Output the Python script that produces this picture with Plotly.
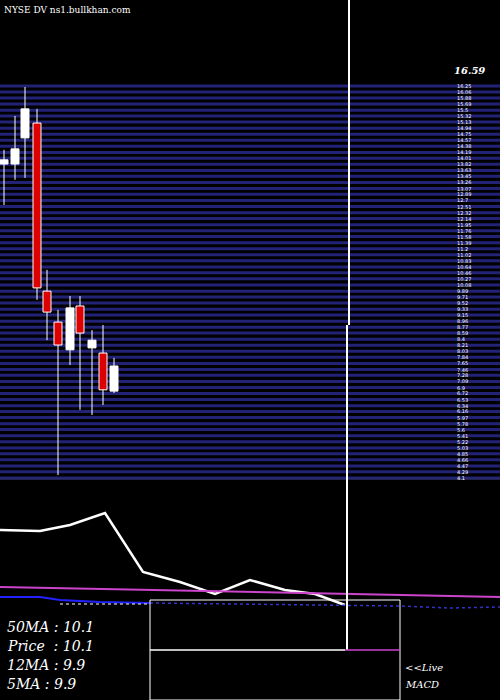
import plotly.graph_objects as go

# candle data
cx = [4, 15, 25, 37, 47, 58, 70, 80, 92, 103, 114]
opens = [13.83, 13.83, 14.64, 15.10, 9.89, 8.93, 8.07, 9.43, 8.13, 7.97, 6.79]
closes = [13.96, 14.30, 15.54, 9.99, 9.24, 8.22, 9.37, 8.59, 8.37, 6.83, 7.57]
highs = [14.27, 15.32, 16.22, 15.54, 10.55, 9.31, 9.74, 9.74, 8.68, 8.84, 7.82]
lows = [12.56, 13.34, 13.40, 9.62, 8.37, 4.19, 7.60, 6.21, 6.05, 6.36, 6.73]

# indicator panel (pixel-like units)
ix = [0, 40, 70, 105, 143, 180, 215, 250, 285, 315, 345]
ma_line = [530, 531, 525, 513, 572, 582, 594, 580, 590, 594, 605]
mx = [0, 100, 200, 300, 400, 500]
magenta = [587, 589, 591, 593, 595, 597]
bx = [0, 40, 60, 100, 150]
blue = [597, 597, 600, 602, 603]
dx = [150, 250, 350, 400, 450, 500]
dblue = [603, 604, 605, 606, 608, 607]

top_price = 16.59
stripe_top, stripe_bottom = 16.25, 4.1
n_stripes = 66
stripe_prices = [round(stripe_top - i * (stripe_top - stripe_bottom) / (n_stripes - 1), 2) for i in range(n_stripes)]

fig = go.Figure()
for i in range(len(cx)):
    up = closes[i] >= opens[i]
    col = "white" if up else "#dd0000"
    fig.add_trace(go.Scatter(x=[cx[i], cx[i]], y=[lows[i], highs[i]], mode="lines",
                             line=dict(color="white", width=1), showlegend=False, hoverinfo="skip"))
    lo, hi = min(opens[i], closes[i]), max(opens[i], closes[i])
    fig.add_trace(go.Scatter(x=[cx[i]-4, cx[i]+4, cx[i]+4, cx[i]-4, cx[i]-4], y=[lo, lo, hi, hi, lo],
                             mode="lines", fill="toself", fillcolor=col,
                             line=dict(color="white", width=1), showlegend=False, hoverinfo="skip"))

fig.add_trace(go.Scatter(x=ix, y=ma_line, yaxis="y2", mode="lines", line=dict(color="white", width=2.5), showlegend=False))
fig.add_trace(go.Scatter(x=mx, y=magenta, yaxis="y2", mode="lines", line=dict(color="#cc44cc", width=2), showlegend=False))
fig.add_trace(go.Scatter(x=bx, y=blue, yaxis="y2", mode="lines", line=dict(color="#2222ff", width=2), showlegend=False))
fig.add_trace(go.Scatter(x=dx, y=dblue, yaxis="y2", mode="lines", line=dict(color="#3333cc", width=1.5, dash="dot"), showlegend=False))

shapes = []
for p in stripe_prices:
    shapes.append(dict(type="line", xref="x", yref="y", x0=0, x1=500, y0=p, y1=p,
                       line=dict(color="#222277", width=3), layer="below"))
shapes += [
    dict(type="line", xref="x", yref="y2", x0=0, x1=500, y0=479, y1=479, line=dict(color="#333366", width=1)),
    dict(type="line", xref="x", yref="y2", x0=349, x1=349, y0=0, y1=325, line=dict(color="white", width=2)),
    dict(type="line", xref="x", yref="y2", x0=347, x1=347, y0=325, y1=650, line=dict(color="white", width=2)),
    dict(type="rect", xref="x", yref="y2", x0=150, x1=400, y0=600, y1=700, line=dict(color="white", width=1)),
    dict(type="line", xref="x", yref="y2", x0=150, x1=345, y0=650, y1=650, line=dict(color="white", width=1.5)),
    dict(type="line", xref="x", yref="y2", x0=345, x1=400, y0=650, y1=650, line=dict(color="#cc44cc", width=1.5)),
    dict(type="line", xref="x", yref="y2", x0=60, x1=150, y0=604, y1=604, line=dict(color="white", width=1, dash="dot")),
]

fnt = dict(family="DejaVu Serif", color="white")
ann = [dict(text="NYSE DV ns1.bullkhan.com", x=2, y=10, xref="x", yref="y2", showarrow=False,
            xanchor="left", font=dict(size=9, **fnt)),
       dict(text=f"<b><i>{top_price}</i></b>", x=452, y=top_price - 0.1, xref="x", yref="y", showarrow=False,
            xanchor="left", yanchor="bottom", font=dict(size=10, **fnt))]
for p in stripe_prices:
    ann.append(dict(text=f"{p}", x=455, y=p, xref="x", yref="y", showarrow=False, xanchor="left",
                    font=dict(size=5, family="DejaVu Sans", color="white")))
labels = ["50MA : 10.1", "Price  : 10.1", "12MA : 9.9", "5MA : 9.9"]
for i, t in enumerate(labels):
    ann.append(dict(text=f"<i>{t}</i>", x=5, y=627 + i * 19, xref="x", yref="y2", showarrow=False,
                    xanchor="left", font=dict(size=14, **fnt)))
ann.append(dict(text="<i>&lt;&lt;Live</i>", x=403, y=667, xref="x", yref="y2", showarrow=False, xanchor="left", font=dict(size=10, **fnt)))
ann.append(dict(text="<i>MACD</i>", x=403, y=684, xref="x", yref="y2", showarrow=False, xanchor="left", font=dict(size=10, **fnt)))

top_px, bot_px = 75, 465
per_px = (top_price - 4.5) / (bot_px - top_px)
fig.update_layout(
    width=500, height=700, margin=dict(l=0, r=0, t=0, b=0),
    paper_bgcolor="black", plot_bgcolor="rgba(0,0,0,0)",
    xaxis=dict(range=[0, 500], visible=False, fixedrange=True),
    yaxis=dict(domain=[(700-480)/700, 1], range=[top_price - (480 - top_px) * per_px, top_price + top_px * per_px], visible=False),
    yaxis2=dict(domain=[0, 1], range=[700, 0], anchor="x", visible=False),
    shapes=shapes, annotations=ann,
)
fig.write_html("out.html", config={"displayModeBar": False})
with open("out.html") as f:
    html = f.read()
with open("out.html", "w") as f:
    f.write(html.replace("<body>", '<body style="margin:0;background:black">', 1))
